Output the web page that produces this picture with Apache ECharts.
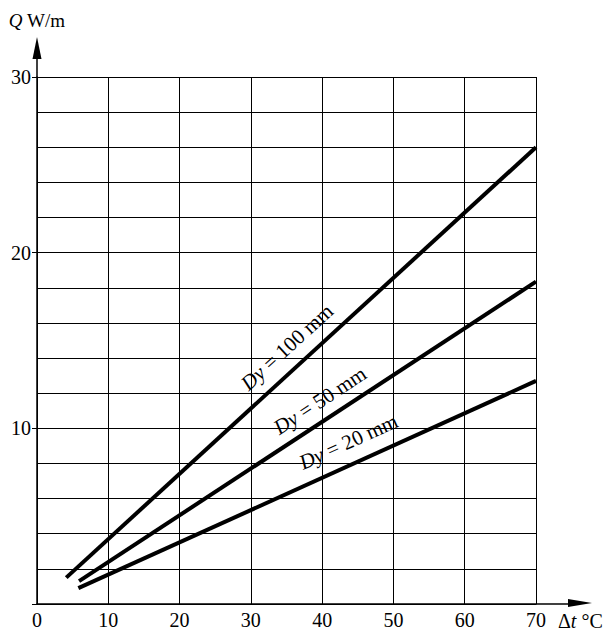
<!DOCTYPE html>
<html>
<head>
<meta charset="utf-8">
<script src="https://cdn.jsdelivr.net/npm/echarts@6/dist/echarts.min.js"></script>
<style>
html,body{margin:0;padding:0;background:#fff;}
#chart{width:613px;height:632px;}
</style>
</head>
<body>
<div id="chart"></div>
<script>
// ---- data ----
const xTicks = [0, 10, 20, 30, 40, 50, 60, 70];
const yTickLabels = [10, 20, 30];
const dy100 = [[4.1, 1.5], [70, 26.0]];
const dy50 = [[5.9, 1.3], [70, 18.35]];
const dy20 = [[5.8, 0.9], [70, 12.7]];
const seriesNames = ['100', '50', '20'];

const FONT = '"Liberation Serif", "Times New Roman", serif';
const chart = echarts.init(document.getElementById('chart'), null, {renderer: 'svg'});

function lineSeries(name, data) {
  return {
    name: name, type: 'line', data: data, symbol: 'none',
    lineStyle: {color: '#000', width: 4, cap: 'butt'}, silent: true, animation: false
  };
}

const option = {
  animation: false,
  backgroundColor: '#fff',
  grid: {left: 37, right: 77, top: 77, bottom: 28},
  xAxis: {
    type: 'value', min: 0, max: 70, interval: 10,
    axisLine: {show: true, lineStyle: {color: '#000', width: 1.5}},
    axisTick: {show: false},
    axisLabel: {color: '#000', fontFamily: FONT, fontSize: 20, margin: 6,
      formatter: v => xTicks.includes(v) ? String(v) : ''},
    splitLine: {show: true, lineStyle: {color: '#000', width: 1}},
    name: '{d|Δ}{t|t} °C', nameLocation: 'end', nameGap: 22,
    nameTextStyle: {color: '#000', fontFamily: FONT, fontSize: 20, align: 'left', verticalAlign: 'top',
      padding: [7, 0, 0, 0],
      rich: {d: {fontFamily: FONT, fontSize: 20, color: '#000'},
             t: {fontFamily: FONT, fontSize: 20, fontStyle: 'italic', color: '#000'}}}
  },
  yAxis: {
    type: 'value', min: 0, max: 30, interval: 10,
    axisLine: {show: true, lineStyle: {color: '#000', width: 1.5}},
    axisTick: {show: true, length: 5, lineStyle: {color: '#000'}},
    minorTick: {show: false, splitNumber: 5},
    minorSplitLine: {show: true, lineStyle: {color: '#000', width: 1}},
    axisLabel: {color: '#000', fontFamily: FONT, fontSize: 20, margin: 6,
      formatter: v => yTickLabels.includes(v) ? String(v) : ''},
    splitLine: {show: true, lineStyle: {color: '#000', width: 1}},
    name: '{q|Q} W/m', nameLocation: 'end', nameGap: 47,
    nameTextStyle: {color: '#000', fontFamily: FONT, fontSize: 19, align: 'center',
      rich: {q: {fontFamily: FONT, fontSize: 19, fontStyle: 'italic', color: '#000'}}}
  },
  series: [lineSeries(seriesNames[0], dy100), lineSeries(seriesNames[1], dy50), lineSeries(seriesNames[2], dy20)]
};
chart.setOption(option);

// ---- decorations: axis arrows and line labels ----
const labelPlace = [
  {data: dy100, name: seriesNames[0], t: 0.50, off: 21},
  {data: dy50, name: seriesNames[1], t: 0.55, off: 19},
  {data: dy20, name: seriesNames[2], t: 0.61, off: 22}
];
const graphics = [];
const origin = chart.convertToPixel({gridIndex: 0}, [0, 0]);
const topLeft = chart.convertToPixel({gridIndex: 0}, [0, 30]);
const rightEnd = chart.convertToPixel({gridIndex: 0}, [70, 0]);
// y axis extension + arrow
graphics.push({type: 'line', shape: {x1: topLeft[0], y1: topLeft[1], x2: topLeft[0], y2: topLeft[1] - 22},
  style: {stroke: '#000', lineWidth: 1.5}, silent: true});
graphics.push({type: 'polygon', shape: {points: [[topLeft[0], topLeft[1] - 40], [topLeft[0] - 4.5, topLeft[1] - 18], [topLeft[0] + 4.5, topLeft[1] - 18]]},
  style: {fill: '#000'}, silent: true});
// x axis extension + arrow
graphics.push({type: 'line', shape: {x1: rightEnd[0], y1: rightEnd[1], x2: rightEnd[0] + 36, y2: rightEnd[1]},
  style: {stroke: '#000', lineWidth: 1.5}, silent: true});
graphics.push({type: 'polygon', shape: {points: [[rightEnd[0] + 56, rightEnd[1] - 1], [rightEnd[0] + 32, rightEnd[1] - 5], [rightEnd[0] + 32, rightEnd[1] + 3]]},
  style: {fill: '#000'}, silent: true});

labelPlace.forEach(L => {
  const p0 = chart.convertToPixel({gridIndex: 0}, L.data[0]);
  const p1 = chart.convertToPixel({gridIndex: 0}, L.data[L.data.length - 1]);
  const dx = p1[0] - p0[0], dy = p1[1] - p0[1];
  const len = Math.sqrt(dx * dx + dy * dy);
  const ux = dx / len, uy = dy / len;
  const nx = uy, ny = -ux; // perpendicular (up-left)
  const cx = p0[0] + L.t * dx + L.off * nx;
  const cy = p0[1] + L.t * dy + L.off * ny;
  const ang = Math.atan2(-dy, dx);
  graphics.push({
    type: 'text', x: cx, y: cy, rotation: ang, silent: true,
    style: {
      text: '{i|Dy} = ' + L.name + ' mm',
      x: 0, y: 0, align: 'center', verticalAlign: 'middle',
      fill: '#000', font: '21px ' + FONT,
      rich: {i: {fontFamily: FONT, fontSize: 21, fontStyle: 'italic', fill: '#000'}}
    }
  });
});
chart.setOption({graphic: graphics});
</script>
</body>
</html>
